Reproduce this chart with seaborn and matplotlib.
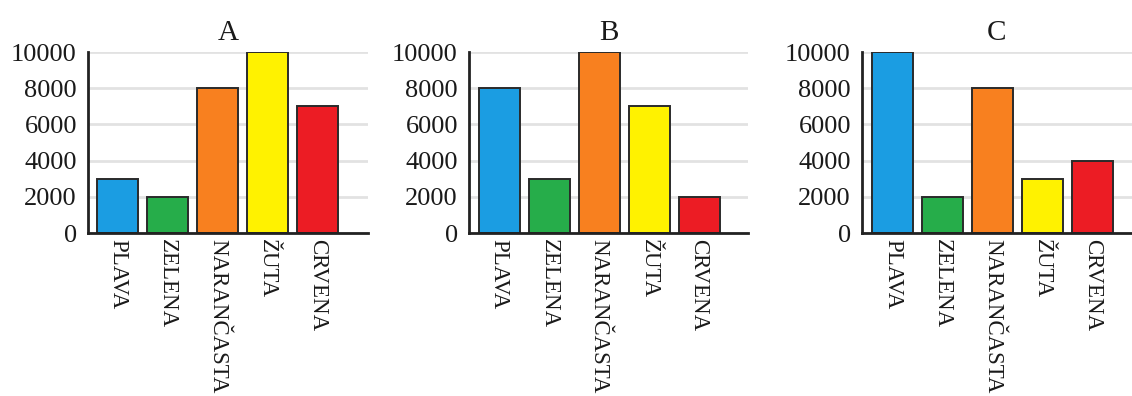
import matplotlib
matplotlib.use('Agg')
import matplotlib.pyplot as plt
import seaborn as sns
import pandas as pd

categories = ['PLAVA', 'ZELENA', 'NARANČASTA', 'ŽUTA', 'CRVENA']
values_a = [3000, 2000, 8000, 10000, 7000]
values_b = [8000, 3000, 10000, 7000, 2000]
values_c = [10000, 2000, 8000, 3000, 4000]
panel_titles = ['A', 'B', 'C']
yticks = [0, 2000, 4000, 6000, 8000, 10000]

colors = ['#1b9de2', '#26ad4a', '#f8801f', '#fff200', '#ec1c24']

sns.set_style('white')
plt.rcParams['font.family'] = ['Liberation Serif', 'DejaVu Serif']

fig = plt.figure(figsize=(11.32, 3.96), dpi=100)

# axes boxes in figure fractions
boxes = [
    (88 / 1132, 0.4116, 280 / 1132, 0.457),
    (469 / 1132, 0.4116, 279 / 1132, 0.457),
    (862 / 1132, 0.4116, 270 / 1132, 0.457),
]
xlims = [(-0.59, 5.01), (-0.6, 4.98), (-0.61, 4.79)]

for box, title, vals, xl in zip(boxes, panel_titles, [values_a, values_b, values_c], xlims):
    ax = fig.add_axes(box)
    df = pd.DataFrame({'boja': categories, 'vrijednost': vals})
    sns.barplot(data=df, x='boja', y='vrijednost', hue='boja', palette=colors,
                legend=False, width=0.82, edgecolor='#2a2a2a', linewidth=1.4,
                saturation=1, ax=ax)
    ax.set_xlim(*xl)
    ax.set_ylim(0, 10000)
    ax.set_yticks(yticks)
    ax.set_yticklabels([str(t) for t in yticks], fontsize=19, color='#1a1a1a')
    ax.set_xticks(range(len(categories)))
    ax.set_xticklabels(categories, rotation=270, fontsize=16.5, color='#1a1a1a')
    ax.tick_params(axis='y', length=0, pad=8)
    ax.tick_params(axis='x', length=0, pad=4)
    ax.set_xlabel('')
    ax.set_ylabel('')
    ax.set_title(title, fontsize=21, pad=9, color='#1a1a1a')
    ax.yaxis.grid(True, color='#e2e2e2', linewidth=2)
    ax.set_axisbelow(True)
    for side in ['top', 'right']:
        ax.spines[side].set_visible(False)
    for side in ['left', 'bottom']:
        ax.spines[side].set_color('#222222')
        ax.spines[side].set_linewidth(2)

fig.savefig('out.png', dpi=100)
